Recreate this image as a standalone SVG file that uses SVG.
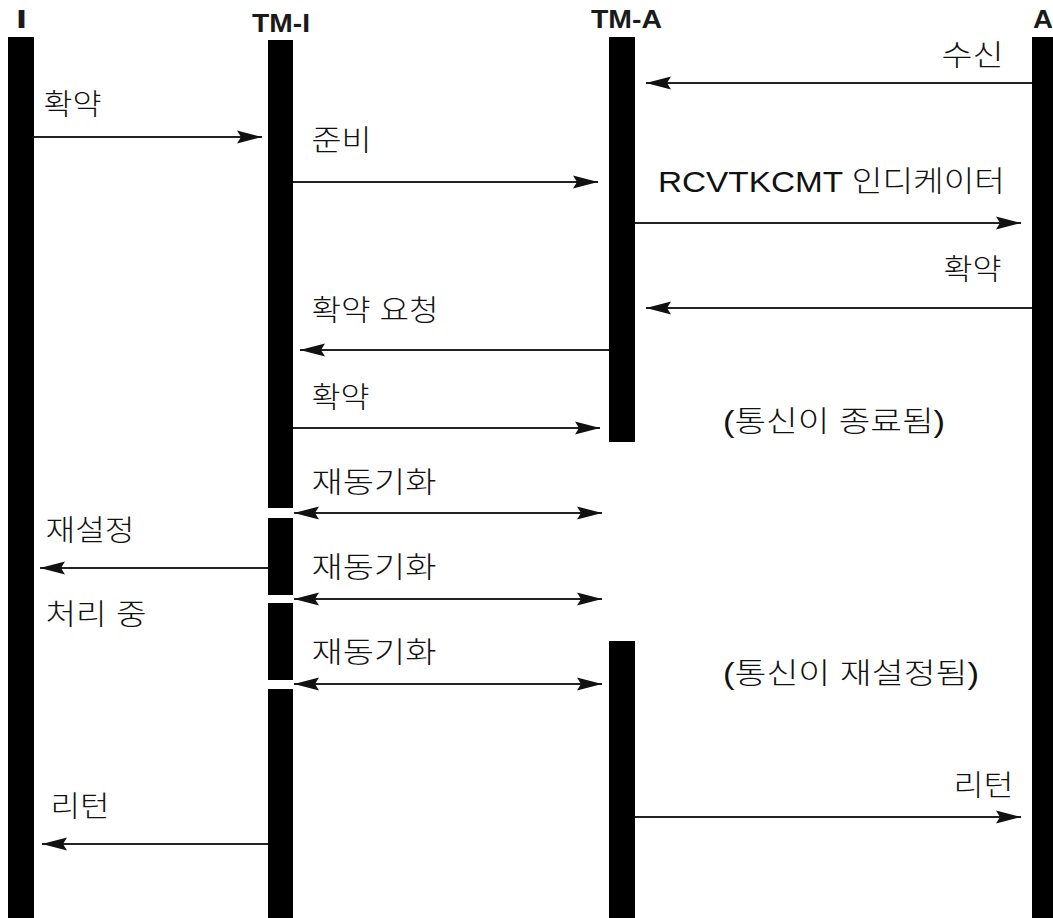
<svg xmlns="http://www.w3.org/2000/svg" width="1053" height="918" viewBox="0 0 1053 918">
<style>
.bar{fill:#000}
.hdr{font-family:"Liberation Sans","Noto Sans CJK KR",sans-serif;font-weight:bold;font-size:25px;fill:#1a1a1a}
.lbl{font-family:"Liberation Sans","Noto Sans CJK KR",sans-serif;font-weight:300;font-size:29px;fill:#111}
.msg{stroke:#222;stroke-width:2;fill:none;marker-end:url(#ah)}
.dbl{marker-start:url(#ahs)}
</style>
<defs>
<marker id="ah" viewBox="-26 -8 27 16" refX="0" refY="0" markerWidth="27" markerHeight="16" markerUnits="userSpaceOnUse" orient="auto">
<path d="M0,0 L-25,-6.5 L-21,0 L-25,6.5 Z" fill="#111"/>
</marker>
<marker id="ahs" viewBox="-26 -8 27 16" refX="0" refY="0" markerWidth="27" markerHeight="16" markerUnits="userSpaceOnUse" orient="auto-start-reverse">
<path d="M0,0 L-25,-6.5 L-21,0 L-25,6.5 Z" fill="#111"/>
</marker>
</defs>
<rect width="1053" height="918" fill="#fff"/>
<g id="node-I">
<text class="hdr" x="16" y="28" textLength="11" lengthAdjust="spacingAndGlyphs">I</text>
<rect class="bar" x="8" y="37" width="26" height="881"/>
</g>
<g id="node-TM-I">
<text class="hdr" x="252" y="32" textLength="58" lengthAdjust="spacingAndGlyphs">TM-I</text>
<rect class="bar" x="268" y="40" width="25" height="468"/>
<rect class="bar" x="268" y="518" width="25" height="77"/>
<rect class="bar" x="268" y="603" width="25" height="77"/>
<rect class="bar" x="268" y="689" width="25" height="229"/>
</g>
<g id="node-TM-A">
<text class="hdr" x="591" y="28" textLength="71" lengthAdjust="spacingAndGlyphs">TM-A</text>
<rect class="bar" x="609" y="37" width="26" height="405"/>
<rect class="bar" x="609" y="641" width="26" height="277"/>
</g>
<g id="node-A">
<text class="hdr" x="1033" y="28" textLength="20" lengthAdjust="spacingAndGlyphs">A</text>
<rect class="bar" x="1032" y="37" width="21" height="881"/>
</g>
<g id="connectors">
<line class="msg" x1="34" y1="137" x2="262" y2="137"/>
<line class="msg" x1="1032" y1="83" x2="646" y2="83"/>
<line class="msg" x1="293" y1="182" x2="598" y2="182"/>
<line class="msg" x1="635" y1="223" x2="1021" y2="223"/>
<line class="msg" x1="1032" y1="308" x2="646" y2="308"/>
<line class="msg" x1="609" y1="350" x2="300" y2="350"/>
<line class="msg" x1="293" y1="428" x2="600" y2="428"/>
<line class="msg dbl" x1="294" y1="513" x2="602" y2="513"/>
<line class="msg" x1="268" y1="568" x2="40" y2="568"/>
<line class="msg dbl" x1="294" y1="599" x2="602" y2="599"/>
<line class="msg dbl" x1="294" y1="684" x2="602" y2="684"/>
<line class="msg" x1="635" y1="817" x2="1021" y2="817"/>
<line class="msg" x1="268" y1="844" x2="42" y2="844"/>
</g>
<g id="labels">
<text class="lbl" x="43.5" y="115" textLength="58" lengthAdjust="spacingAndGlyphs">확약</text>
<text class="lbl" x="941.5" y="66" textLength="62" lengthAdjust="spacingAndGlyphs">수신</text>
<text class="lbl" x="311.5" y="151" textLength="60" lengthAdjust="spacingAndGlyphs">준비</text>
<text class="lbl" x="658" y="192" textLength="347" lengthAdjust="spacingAndGlyphs">RCVTKCMT 인디케이터</text>
<text class="lbl" x="943.5" y="280" textLength="58" lengthAdjust="spacingAndGlyphs">확약</text>
<text class="lbl" x="311.5" y="321" textLength="127" lengthAdjust="spacingAndGlyphs">확약 요청</text>
<text class="lbl" x="311.5" y="408" textLength="58" lengthAdjust="spacingAndGlyphs">확약</text>
<text class="lbl" x="311.5" y="493" textLength="125" lengthAdjust="spacingAndGlyphs">재동기화</text>
<text class="lbl" x="45.5" y="541" textLength="89" lengthAdjust="spacingAndGlyphs">재설정</text>
<text class="lbl" x="311.5" y="578" textLength="125" lengthAdjust="spacingAndGlyphs">재동기화</text>
<text class="lbl" x="45.5" y="625" textLength="101" lengthAdjust="spacingAndGlyphs">처리 중</text>
<text class="lbl" x="311.5" y="663" textLength="125" lengthAdjust="spacingAndGlyphs">재동기화</text>
<text class="lbl" x="953.5" y="796" textLength="60" lengthAdjust="spacingAndGlyphs">리턴</text>
<text class="lbl" x="50.5" y="817" textLength="59" lengthAdjust="spacingAndGlyphs">리턴</text>
</g>
<g id="note-terminated">
<text class="lbl" x="723" y="432" textLength="222" lengthAdjust="spacingAndGlyphs">(통신이 종료됨)</text>
</g>
<g id="note-reestablished">
<text class="lbl" x="723" y="684" textLength="256" lengthAdjust="spacingAndGlyphs">(통신이 재설정됨)</text>
</g>
</svg>
